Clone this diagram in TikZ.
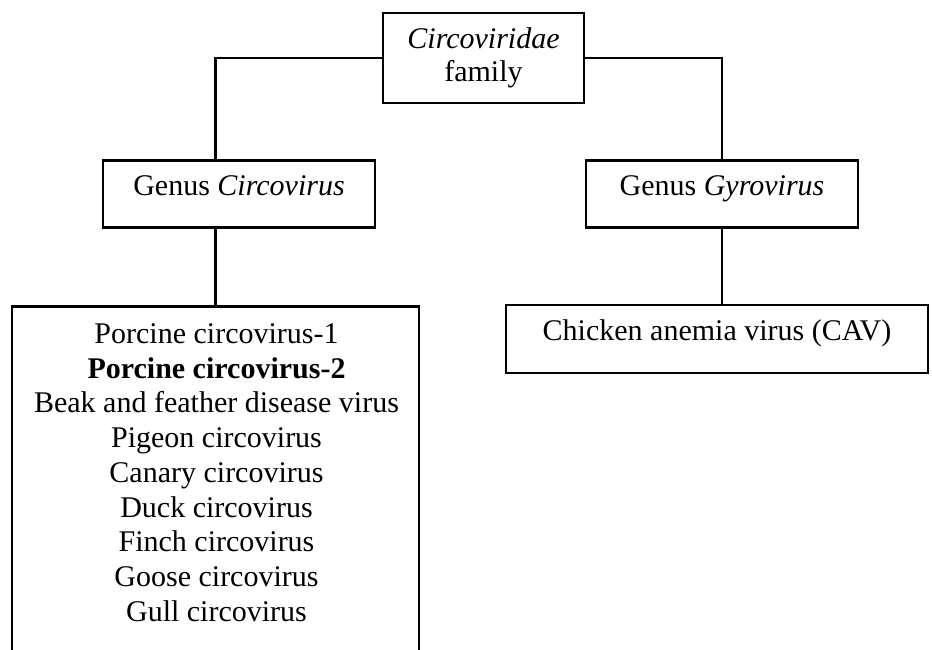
\documentclass[tikz,border=0pt]{standalone}
\usepackage{fontspec}
\setmainfont{Liberation Serif}
\begin{document}
\begin{tikzpicture}[x=1pt,y=-1pt,
  box/.style={draw, line width=2.6pt, inner sep=0pt, align=center, font=\fontsize{30}{33}\selectfont},
  oneline/.style={text height=0.6em, text depth=0.4em},
  conn/.style={line width=2.6pt}]
\useasboundingbox (0,0) rectangle (932,649);
\clip (0,0) rectangle (932,649);
\node[box, minimum width=201pt, minimum height=90pt] (fam) at (483.5,58) {\textit{Circoviridae}\\family};
\node[box, oneline, minimum width=272pt, minimum height=67pt] (circ) at (239,194) {Genus \textit{Circovirus}};
\node[box, oneline, minimum width=272pt, minimum height=67pt] (gyro) at (722,194) {Genus \textit{Gyrovirus}};
\node[box, oneline, minimum width=422pt, minimum height=68pt] (cav) at (717,339) {Chicken anemia virus (CAV)};
\node[box, minimum width=407pt, minimum height=375pt, anchor=north] (list) at (215.5,305) {};
\node[anchor=north, align=center, inner sep=0pt, font=\fontsize{30}{34.7}\selectfont] (listtext) at (216.5,323.5)
 {Porcine circovirus-1\\\textbf{Porcine circovirus-2}\\Beak and feather disease virus\\Pigeon circovirus\\Canary circovirus\\Duck circovirus\\Finch circovirus\\Goose circovirus\\Gull circovirus};
\draw[conn] (fam.west) -| (list.north |- circ.north);
\draw[conn] (list.north |- circ.south) -- (list.north);
\draw[conn] (fam.east) -| (gyro.north);
\draw[conn] (gyro.south) -- (gyro.south |- cav.north);
\end{tikzpicture}
\end{document}
